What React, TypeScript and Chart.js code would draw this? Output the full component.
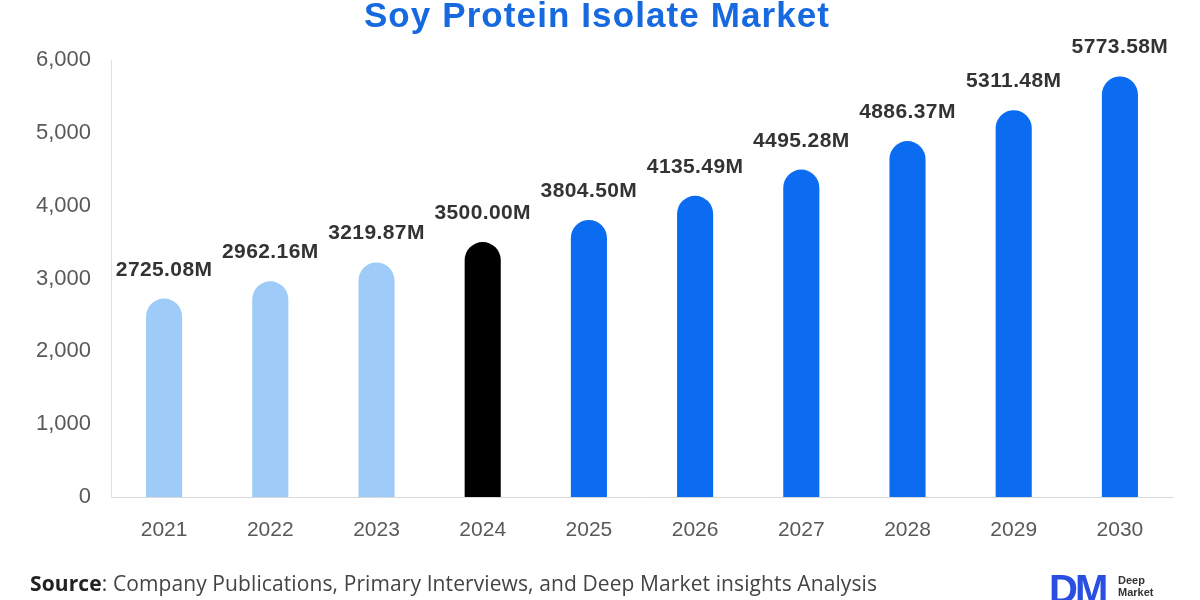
import { useEffect, useRef } from 'react';
import { Chart, registerables, Plugin } from 'chart.js';

Chart.register(...registerables);

// ---- data ----
const years = ['2021', '2022', '2023', '2024', '2025', '2026', '2027', '2028', '2029', '2030'];
const marketSize = [2725.08, 2962.16, 3219.87, 3500.0, 3804.5, 4135.49, 4495.28, 4886.37, 5311.48, 5773.58];
const baseYear = '2024';
const yTicks = [0, 1000, 2000, 3000, 4000, 5000, 6000];

const HIST = '#9ecbf7';
const BASE = '#000000';
const FORECAST = '#0b6cf2';
const FONT = '"Liberation Sans", Arial, sans-serif';

const barColor = (i: number) => {
  const y = Number(years[i]);
  if (years[i] === baseYear) return BASE;
  return y < Number(baseYear) ? HIST : FORECAST;
};

// value labels above each bar
const valueLabels: Plugin<'bar'> = {
  id: 'valueLabels',
  afterDatasetsDraw(chart) {
    const { ctx } = chart;
    const meta = chart.getDatasetMeta(0);
    ctx.save();
    ctx.font = `bold 21px ${FONT}`;
    (ctx as any).letterSpacing = '0.4px';
    ctx.fillStyle = '#333333';
    ctx.textAlign = 'center';
    ctx.textBaseline = 'alphabetic';
    meta.data.forEach((bar, i) => {
      const v = marketSize[i];
      ctx.fillText(`${v.toFixed(2)}M`, bar.x, bar.y - 23);
    });
    ctx.restore();
  },
};

export default function App() {
  const canvasRef = useRef<HTMLCanvasElement>(null);
  const chartRef = useRef<Chart | null>(null);

  useEffect(() => {
    if (!canvasRef.current) return;
    if (chartRef.current) chartRef.current.destroy();

    chartRef.current = new Chart(canvasRef.current, {
      type: 'bar',
      data: {
        labels: years,
        datasets: [
          {
            label: 'Soy Protein Isolate Market',
            data: marketSize,
            backgroundColor: years.map((_, i) => barColor(i)),
            borderRadius: 20,
            borderSkipped: 'start',
            barPercentage: 0.34,
            categoryPercentage: 1,
          },
        ],
      },
      options: {
        responsive: true,
        maintainAspectRatio: false,
        animation: false,
        layout: { padding: { left: 0, right: 27, top: 60, bottom: 0 } },
        plugins: {
          legend: { display: false },
          tooltip: { enabled: false },
          title: { display: false },
        },
        scales: {
          x: {
            grid: { display: false, drawTicks: false },
            border: { display: true, color: '#d9d9d9', width: 1 },
            ticks: {
              color: '#595959',
              padding: 21,
              font: { family: FONT, size: 21 },
            },
            afterFit: (scale) => {
              scale.height = 103;
            },
          },
          y: {
            min: 0,
            max: 6000,
            grid: { display: false, drawTicks: false },
            border: { display: true, color: '#e0e0e0', width: 1 },
            afterBuildTicks: (scale) => {
              scale.ticks = yTicks.map((v) => ({ value: v }));
            },
            ticks: {
              color: '#595959',
              padding: 20,
              font: { family: FONT, size: 22 },
              callback: (v) => Number(v).toLocaleString('en-US'),
            },
            afterFit: (scale) => {
              scale.width = 111;
            },
          },
        },
      },
      plugins: [valueLabels],
    });

    return () => {
      chartRef.current?.destroy();
      chartRef.current = null;
    };
  }, []);

  return (
    <div
      style={{
        position: 'absolute',
        left: 0,
        top: 0,
        width: 1200,
        height: 600,
        background: '#ffffff',
        overflow: 'hidden',
      }}
    >
      <canvas ref={canvasRef} />
      <div
        style={{
          position: 'absolute',
          left: 297,
          width: 600,
          top: -3,
          textAlign: 'center',
          fontFamily: FONT,
          fontWeight: 700,
          fontSize: 35,
          lineHeight: '35px',
          letterSpacing: '1.1px',
          color: '#1769e0',
          whiteSpace: 'nowrap',
        }}
      >
        Soy Protein Isolate Market
      </div>
      <div
        style={{
          position: 'absolute',
          left: 30,
          top: 573,
          fontFamily: '"Open Sans", sans-serif',
          fontSize: 21,
          lineHeight: '20px',
          color: '#444',
          whiteSpace: 'nowrap',
          letterSpacing: '0.1px',
        }}
      >
        <span style={{ fontWeight: 700, color: '#222' }}>Source</span>: Company Publications, Primary Interviews, and Deep
        Market insights Analysis
      </div>
      <div
        style={{
          position: 'absolute',
          left: 1049,
          top: 569,
          fontFamily: FONT,
          fontWeight: 700,
          fontSize: 40,
          lineHeight: '40px',
          color: '#2a4fe0',
          letterSpacing: '-3px',
        }}
      >
        DM
      </div>
      <div
        style={{
          position: 'absolute',
          left: 1118,
          top: 574,
          fontFamily: FONT,
          fontWeight: 700,
          fontSize: 11,
          lineHeight: '12px',
          color: '#333',
        }}
      >
        Deep
        <br />
        Market
      </div>
    </div>
  );
}
